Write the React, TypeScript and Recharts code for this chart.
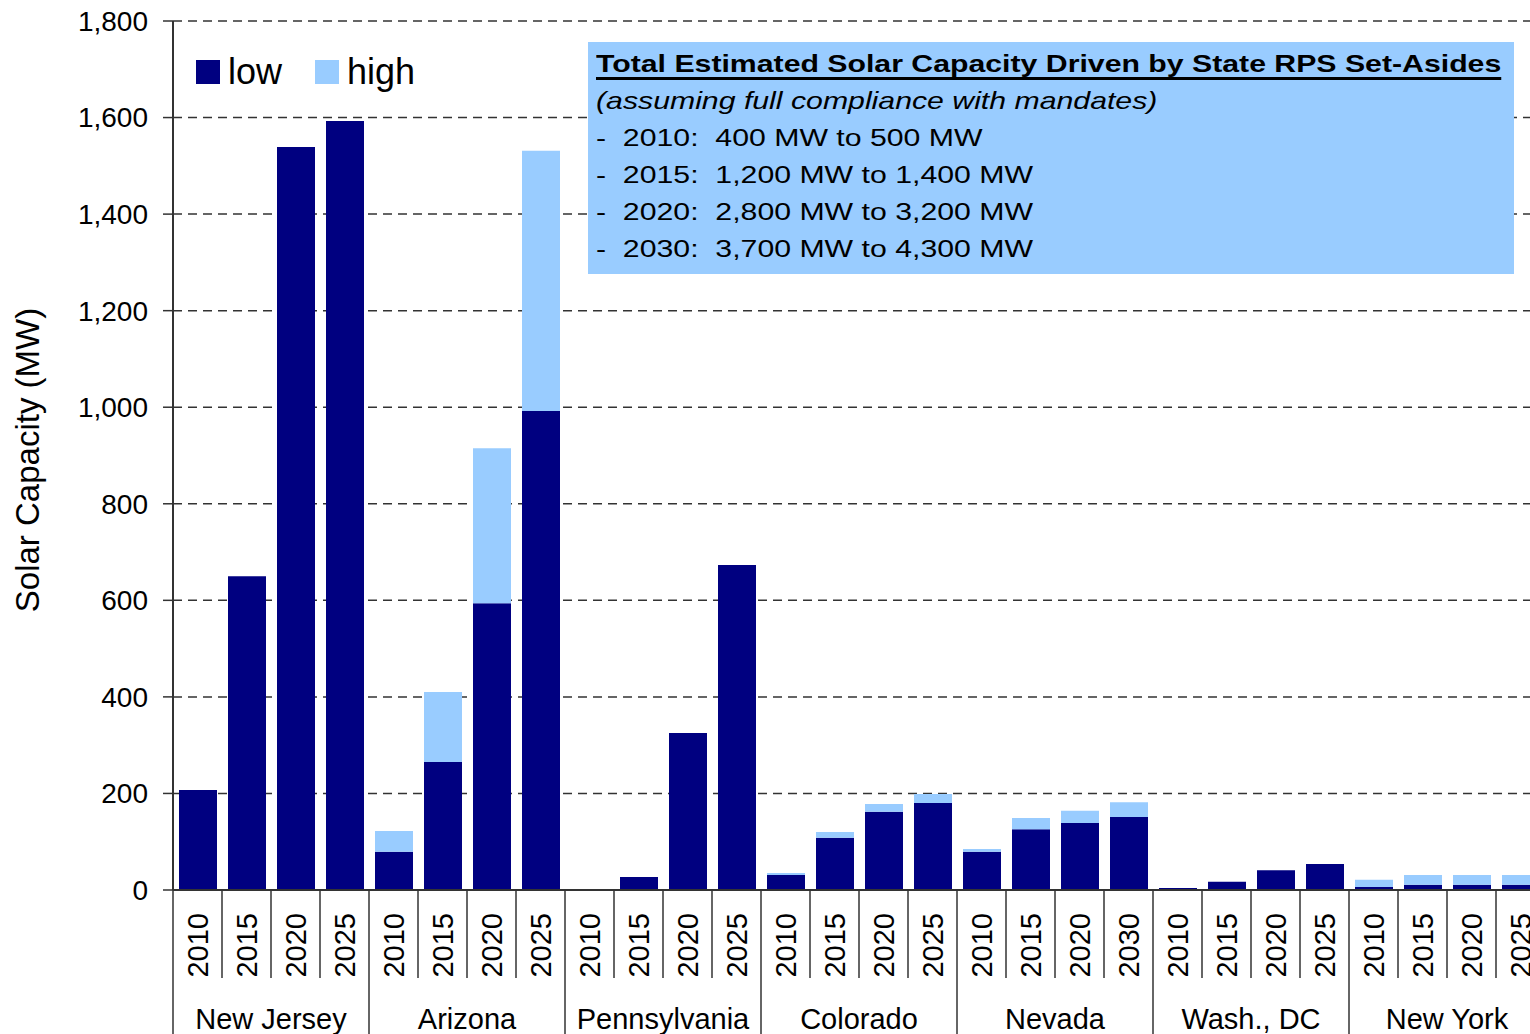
import React from 'react';
import { BarChart, Bar, XAxis, YAxis, CartesianGrid, Legend } from 'recharts';

// states and the years shown under each one
const states = ['New Jersey', 'Arizona', 'Pennsylvania', 'Colorado', 'Nevada', 'Wash., DC', 'New York'];
const stateYears = [
  [2010, 2015, 2020, 2025],
  [2010, 2015, 2020, 2025],
  [2010, 2015, 2020, 2025],
  [2010, 2015, 2020, 2025],
  [2010, 2015, 2020, 2030],
  [2010, 2015, 2020, 2025],
  [2010, 2015, 2020, 2025],
];
// MW, low estimate
const lowValues = [
  [207, 650, 1539, 1593],
  [79, 265, 594, 992],
  [2, 27, 325, 673],
  [31, 108, 162, 180],
  [79, 126, 139, 151],
  [4, 17, 41, 54],
  [6, 11, 11, 11],
];
// MW, extra on top of low for the high estimate
const highValues = [
  [0, 0, 0, 0],
  [43, 145, 321, 539],
  [0, 0, 0, 0],
  [4, 12, 16, 19],
  [6, 23, 25, 31],
  [0, 0, 0, 0],
  [15, 20, 20, 20],
];
const yTicks = [0, 200, 400, 600, 800, 1000, 1200, 1400, 1600, 1800];
const legendOrder = ['low', 'high'];

const noteTitle = 'Total Estimated Solar Capacity Driven by State RPS Set-Asides';
const noteSubtitle = '(assuming full compliance with mandates)';
const noteLines = [
  '-  2010:  400 MW to 500 MW',
  '-  2015:  1,200 MW to 1,400 MW',
  '-  2020:  2,800 MW to 3,200 MW',
  '-  2030:  3,700 MW to 4,300 MW',
];

const data = states.flatMap((state, i) =>
  stateYears[i].map((year, j) => ({
    key: `${state}-${year}`,
    state,
    year: String(year),
    first: j === 0,
    low: lowValues[i][j],
    high: highValues[i][j],
  }))
);

const FONT = '"Liberation Sans", Arial, Helvetica, sans-serif';
const NAVY = '#000080';
const LIGHT = '#99CCFF';
const LINE = '#333333';

const CHART_W = 1560;
const CHART_H = 1034;
const MARGIN = { top: 21, right: 15, bottom: 0, left: 0 };
const Y_AXIS_W = 173;
const X_AXIS_H = 144;
const BAND = (CHART_W - MARGIN.left - MARGIN.right - Y_AXIS_W) / data.length;
const AXIS_Y = CHART_H - MARGIN.bottom - X_AXIS_H;

function YearTick(props: any) {
  const { x, payload, index } = props;
  const row = data.find((d) => d.key === payload.value);
  if (!row) return null;
  const left = x - BAND / 2;
  return (
    <g>
      <line x1={left} x2={left} y1={AXIS_Y} y2={row.first ? CHART_H : AXIS_Y + 88} stroke={LINE} strokeWidth={1.5} />
      {index === data.length - 1 && (
        <line x1={left + BAND} x2={left + BAND} y1={AXIS_Y} y2={CHART_H} stroke={LINE} strokeWidth={1.5} />
      )}
      <text
        transform={`translate(${x + 10},${AXIS_Y + 23}) rotate(-90)`}
        textAnchor="end"
        fontSize={29}
        fontFamily={FONT}
        fill="#000"
      >
        {row.year}
      </text>
      {row.first && (
        <text x={left + BAND * 2} y={CHART_H - 5} textAnchor="middle" fontSize={29} fontFamily={FONT} fill="#000">
          {row.state}
        </text>
      )}
    </g>
  );
}

function LegendBox(props: any) {
  const items = [...(props.payload || [])].sort(
    (a: any, b: any) => legendOrder.indexOf(a.value) - legendOrder.indexOf(b.value)
  );
  return (
    <div style={{ display: 'flex', alignItems: 'center', fontFamily: FONT, fontSize: 36, lineHeight: 1, color: '#000' }}>
      {items.map((it: any, i: number) => (
        <div key={i} style={{ display: 'flex', alignItems: 'center', marginLeft: i === 0 ? 0 : 33 }}>
          <span style={{ display: 'inline-block', width: 24, height: 24, background: it.color }} />
          <span style={{ marginLeft: 8 }}>{it.value}</span>
        </div>
      ))}
    </div>
  );
}

export default function App() {
  return (
    <div style={{ position: 'absolute', left: 0, top: 0, width: 1530, height: 1034, overflow: 'hidden', background: '#fff' }}>
      <BarChart width={CHART_W} height={CHART_H} data={data} margin={MARGIN}>
        <CartesianGrid vertical={false} stroke={LINE} strokeWidth={1.5} strokeDasharray="9 6" />
        <XAxis
          dataKey="key"
          height={X_AXIS_H}
          interval={0}
          tickLine={false}
          axisLine={{ stroke: LINE, strokeWidth: 2 }}
          tick={<YearTick />}
        />
        <YAxis
          width={Y_AXIS_W}
          domain={[0, 1800]}
          ticks={yTicks}
          interval={0}
          tickSize={10}
          tickMargin={15}
          tickLine={{ stroke: LINE, strokeWidth: 1.5 }}
          axisLine={{ stroke: LINE, strokeWidth: 2 }}
          tick={{ fontSize: 28, fill: '#000', fontFamily: FONT }}
          tickFormatter={(v: number) => v.toLocaleString('en-US')}
          label={{
            content: () => (
              <text
                transform="translate(39,460) rotate(-90)"
                textAnchor="middle"
                fontSize={33}
                fontFamily={FONT}
                fill="#000"
              >
                Solar Capacity (MW)
              </text>
            ),
          }}
        />
        <Legend
          layout="horizontal"
          verticalAlign="middle"
          align="center"
          content={<LegendBox />}
          wrapperStyle={{ left: 196, top: 54, width: 'auto', height: 36 }}
        />
        <Bar dataKey="low" name="low" stackId="s" fill={NAVY} barSize={38} isAnimationActive={false} />
        <Bar dataKey="high" name="high" stackId="s" fill={LIGHT} barSize={38} isAnimationActive={false} />
      </BarChart>
      <div style={{ position: 'absolute', left: 588, top: 42, width: 926, height: 232, background: LIGHT }}>
        <div
          style={{
            position: 'absolute',
            left: 8,
            top: 2.5,
            transform: 'scaleX(1.26)',
            transformOrigin: 'left top',
            fontFamily: FONT,
            fontSize: 24,
            lineHeight: '37px',
            whiteSpace: 'pre',
            color: '#000',
          }}
        >
          <div style={{ fontWeight: 'bold', textDecoration: 'underline', textDecorationThickness: 3, textUnderlineOffset: 5 }}>
            {noteTitle}
          </div>
          <div style={{ fontStyle: 'italic' }}>{noteSubtitle}</div>
          {noteLines.map((l, i) => (
            <div key={i}>{l}</div>
          ))}
        </div>
      </div>
    </div>
  );
}
